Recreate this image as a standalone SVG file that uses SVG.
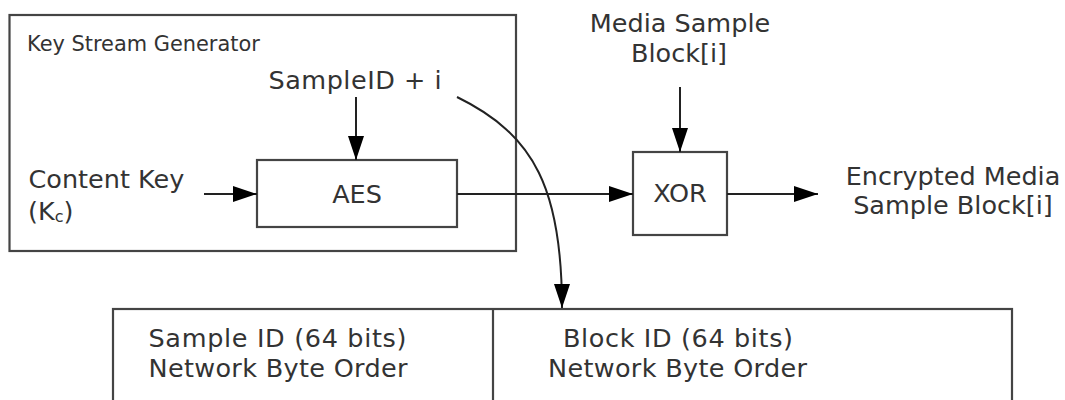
<svg xmlns="http://www.w3.org/2000/svg" width="1065" height="400" viewBox="0 0 1065 400">
<style>
  .box { fill: #ffffff; stroke: #444444; stroke-width: 2.2; }
  .txt { font-family: "DejaVu Sans", Verdana, sans-serif; font-size: 25.5px; fill: #333333; }
  .small { font-size: 20.9px; }
  .mid { text-anchor: middle; }
  .conn { fill: none; stroke: #222222; stroke-width: 2; }
</style>
<defs>
  <marker id="arrow" markerUnits="userSpaceOnUse" markerWidth="25" markerHeight="17" refX="24" refY="8.5" orient="auto">
    <path d="M0,0.5 L24,8.5 L0,16.5 z" fill="#000000"/>
  </marker>
</defs>
<rect width="1065" height="400" fill="#ffffff"/>

<g id="key-stream-generator">
  <rect class="box" x="9.5" y="15" width="506.5" height="236"/>
  <text class="txt small" x="27" y="51">Key Stream Generator</text>
</g>

<g id="sample-id-label">
  <text class="txt" x="268.5" y="89" textLength="173" lengthAdjust="spacing">SampleID + i</text>
</g>

<g id="content-key">
  <text class="txt" x="28.5" y="187.5">Content Key</text>
  <text class="txt" x="28" y="219.5">(K<tspan font-size="16" dy="2">c</tspan><tspan dy="-2">)</tspan></text>
</g>

<g id="aes">
  <rect class="box" x="257" y="160" width="200" height="67"/>
  <text class="txt mid" x="357" y="203">AES</text>
</g>

<g id="media-sample-block">
  <text class="txt mid" x="680" y="31.5">Media Sample</text>
  <text class="txt mid" x="679" y="61.5">Block[i]</text>
</g>

<g id="xor">
  <rect class="box" x="633" y="152" width="94" height="83"/>
  <text class="txt mid" x="680" y="202">XOR</text>
</g>

<g id="encrypted-output">
  <text class="txt mid" x="953" y="185">Encrypted Media</text>
  <text class="txt mid" x="953" y="213.5">Sample Block[i]</text>
</g>

<g id="counter-block">
  <rect class="box" x="113" y="309" width="899" height="120"/>
  <line x1="493" y1="309" x2="493" y2="400" stroke="#444444" stroke-width="2.2"/>
  <text class="txt" x="148.5" y="346.5" textLength="258" lengthAdjust="spacing">Sample ID (64 bits)</text>
  <text class="txt" x="148.5" y="377" textLength="259" lengthAdjust="spacing">Network Byte Order</text>
  <text class="txt" x="563" y="346.5" textLength="230" lengthAdjust="spacing">Block ID (64 bits)</text>
  <text class="txt" x="548" y="377" textLength="259" lengthAdjust="spacing">Network Byte Order</text>
</g>

<g id="connectors">
  <line class="conn" x1="204" y1="194" x2="257" y2="194" marker-end="url(#arrow)"/>
  <line class="conn" x1="356" y1="97" x2="356" y2="160" marker-end="url(#arrow)"/>
  <line class="conn" x1="457" y1="194" x2="633" y2="194" marker-end="url(#arrow)"/>
  <line class="conn" x1="680" y1="87" x2="680" y2="152" marker-end="url(#arrow)"/>
  <line class="conn" x1="727" y1="194" x2="818" y2="194" marker-end="url(#arrow)"/>
  <path class="conn" d="M457,97 C535,135 562,190 562,308" marker-end="url(#arrow)"/>
</g>
</svg>
